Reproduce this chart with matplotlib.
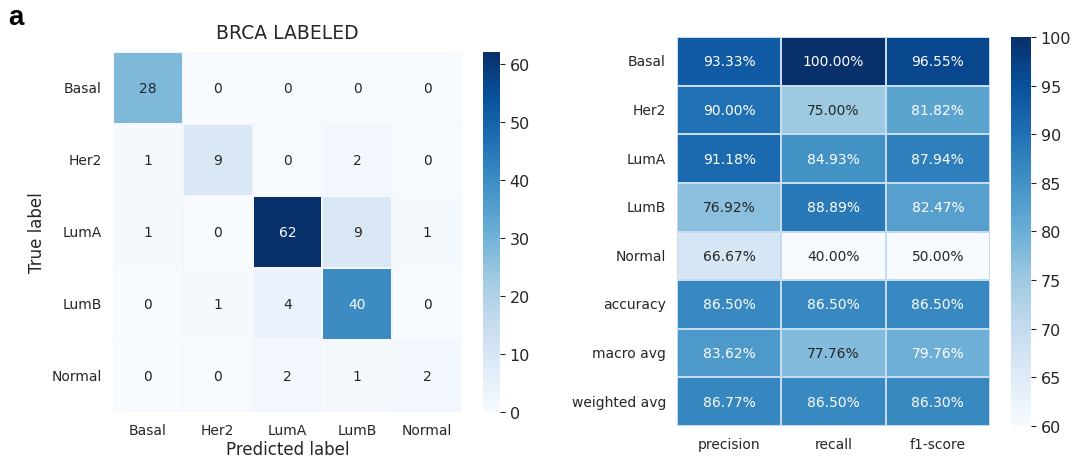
import numpy as np
import matplotlib
matplotlib.use('Agg')
import matplotlib.pyplot as plt
import seaborn as sns

classes = ['Basal', 'Her2', 'LumA', 'LumB', 'Normal']
conf_mat = np.array([[28, 0, 0, 0, 0],
                     [1, 9, 0, 2, 0],
                     [1, 0, 62, 9, 1],
                     [0, 1, 4, 40, 0],
                     [0, 0, 2, 1, 2]])

report_rows = ['Basal', 'Her2', 'LumA', 'LumB', 'Normal', 'accuracy', 'macro avg', 'weighted avg']
report_cols = ['precision', 'recall', 'f1-score']
report_vals = np.array([[93.33, 100.00, 96.55],
                        [90.00, 75.00, 81.82],
                        [91.18, 84.93, 87.94],
                        [76.92, 88.89, 82.47],
                        [66.67, 40.00, 50.00],
                        [86.50, 86.50, 86.50],
                        [83.62, 77.76, 79.76],
                        [86.77, 86.50, 86.30]])

dark = '#262626'
plt.rcParams['font.family'] = 'DejaVu Sans'
plt.rcParams['text.color'] = dark
plt.rcParams['axes.labelcolor'] = dark
plt.rcParams['xtick.color'] = dark
plt.rcParams['ytick.color'] = dark

W, H = 1077, 464
fig = plt.figure(figsize=(W / 100, H / 100), dpi=100)

def box(x0, y0, x1, y1):
    # pixel box (top-left origin) -> figure fraction
    return [x0 / W, 1 - y1 / H, (x1 - x0) / W, (y1 - y0) / H]

ax1 = fig.add_axes(box(113, 53, 462, 413))
cax1 = fig.add_axes(box(483, 53, 500, 413))
sns.heatmap(conf_mat, ax=ax1, cbar_ax=cax1, cmap='Blues', annot=True, fmt='d',
            vmin=0, vmax=62, linewidths=0.3, linecolor='#f4f8fc',
            xticklabels=classes, yticklabels=classes, annot_kws={'fontsize': 10})
ax1.set_title('BRCA LABELED', fontsize=13.5, pad=10)
ax1.set_xlabel('Predicted label', fontsize=12, labelpad=2)
ax1.set_ylabel('True label', fontsize=12, labelpad=4)
ax1.tick_params(axis='both', labelsize=10, length=0, pad=8)
plt.setp(ax1.get_yticklabels(), rotation=0)
cax1.tick_params(labelsize=11.5)
cax1.set_yticks([0, 10, 20, 30, 40, 50, 60])
for s in cax1.spines.values():
    s.set_visible(False)

ax2 = fig.add_axes(box(677, 38, 990, 427))
cax2 = fig.add_axes(box(1011, 38, 1031, 427))
labels2 = np.array([['%.2f%%' % v for v in row] for row in report_vals])
sns.heatmap(report_vals, ax=ax2, cbar_ax=cax2, cmap='Blues', annot=labels2, fmt='',
            vmin=60, vmax=100, linewidths=0.3, linecolor='#c6dbef',
            xticklabels=report_cols, yticklabels=report_rows, annot_kws={'fontsize': 10})
ax2.tick_params(axis='both', labelsize=10, length=0, pad=8)
plt.setp(ax2.get_yticklabels(), rotation=0)
cax2.tick_params(labelsize=11.5)
for s in cax2.spines.values():
    s.set_visible(False)

fig.text(8 / W, 1 - 25 / H, 'a', fontsize=20, fontweight='heavy',
         family='Liberation Sans', color='black')

fig.savefig('out.png', dpi=100)
